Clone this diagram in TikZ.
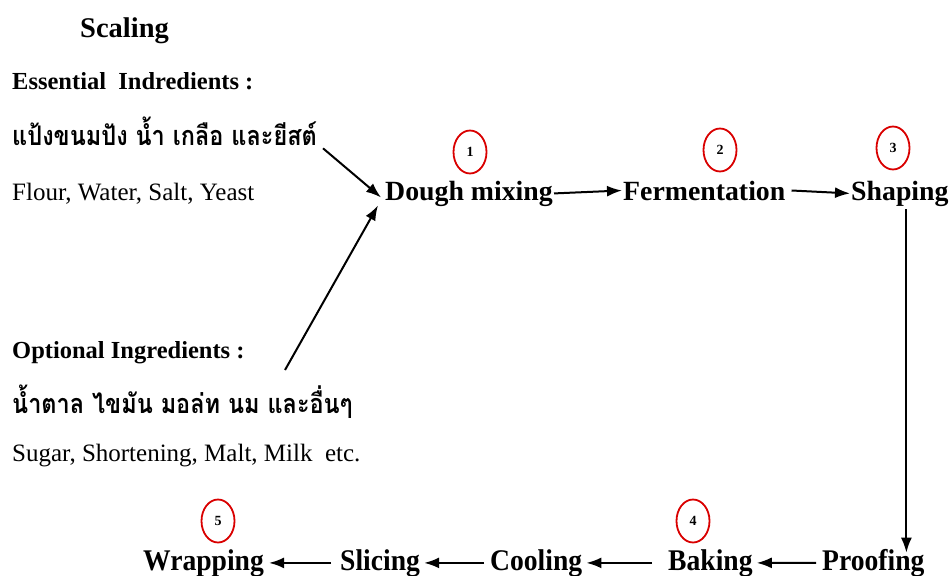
\documentclass[tikz,border=0pt]{standalone}
\usepackage{fontspec}
\setmainfont{Liberation Serif}
\newfontfamily\thai[Script=Thai,FakeStretch=0.87]{Loma}
\newfontfamily\cond[FakeStretch=0.92]{Liberation Serif}
\usetikzlibrary{arrows.meta,shapes.geometric}
\begin{document}
\begin{tikzpicture}[x=1pt,y=-1pt,
  txt/.style={inner sep=0pt,anchor=base west},
  head/.style={txt,font=\fontsize{24.5}{26}\selectfont\bfseries},
  thaitxt/.style={txt,font=\thai\fontsize{27}{30}\selectfont\bfseries},
  eng/.style={txt,font=\fontsize{25}{27}\selectfont},
  stepname/.style={txt,font=\fontsize{27.8}{30}\selectfont\bfseries},
  stepcond/.style={txt,font=\cond\fontsize{30}{32}\selectfont\bfseries},
  num/.style={draw=red!85!black,line width=1.8pt,ellipse,minimum width=33pt,minimum height=43pt,inner sep=0pt,font=\fontsize{14}{15}\selectfont\bfseries},
  arr/.style={line width=2pt,-{Latex[length=15pt,width=11pt]}}]
\useasboundingbox (0,0) rectangle (952,575);
% left texts
\node[txt,font=\fontsize{28.5}{30}\selectfont\bfseries] (scaling) at (80,38) {Scaling};
\node[head] (ess) at (12,90) {Essential\ \ Indredients :};
\node[thaitxt] (thai1) at (12,145) {แป้งขนมปัง น้ำ เกลือ และยีสต์};
\node[eng] (flour) at (12,200) {Flour, Water, Salt, Yeast};
\node[head] (opt) at (12,358) {Optional Ingredients :};
\node[thaitxt] (thai2) at (12,413) {น้ำตาล ไขมัน มอล่ท นม และอื่นๆ};
\node[eng] (sugar) at (12,461) {Sugar, Shortening, Malt, Milk\ \ etc.};
% top row
\node[stepname] (dough) at (385,200) {Dough mixing};
\node[stepname] (ferm) at (623,200) {Fermentation};
\node[stepname] (shape) at (851,200) {Shaping};
% bottom row
\node[stepcond] (wrap) at (143,570) {Wrapping};
\node[stepcond] (slice) at (340,570) {Slicing};
\node[stepcond] (cool) at (490,570) {Cooling};
\node[stepcond] (bake) at (668,570) {Baking};
\node[stepcond] (proof) at (822,570) {Proofing};
% numbered circles
\node[num] (n1) at (470,152) {1};
\node[num] (n2) at (720,150) {2};
\node[num] (n3) at (893,148) {3};
\node[num] (n4) at (693,521) {4};
\node[num] (n5) at (218,521) {5};
% connectors
\coordinate (s2) at (285,370);
\draw[arr] ([xshift=6pt,yshift=-3pt]thai1.south east) -- ([xshift=-4pt,yshift=-4pt]dough.west);
\draw[arr] (s2) -- ([xshift=-7pt,yshift=-12pt]dough.west);
\draw[arr] ([xshift=1pt]dough.east) -- ([xshift=-1pt]ferm.west);
\draw[arr] ([xshift=6pt]ferm.east) -- ([xshift=-1pt]shape.west);
\draw[arr] ([xshift=6.5pt,yshift=-3pt]shape.south) -- ([xshift=6.5pt,yshift=-4pt]shape.south |- proof.north);
\draw[arr] ([xshift=-6pt]proof.west) -- ([xshift=4pt]bake.east);
\draw[arr] ([xshift=-16pt]bake.west) -- ([xshift=4pt]cool.east);
\draw[arr] ([xshift=-6pt]cool.west) -- ([xshift=4pt]slice.east);
\draw[arr] ([xshift=-9pt]slice.west) -- ([xshift=5pt]wrap.east);
\end{tikzpicture}
\end{document}
